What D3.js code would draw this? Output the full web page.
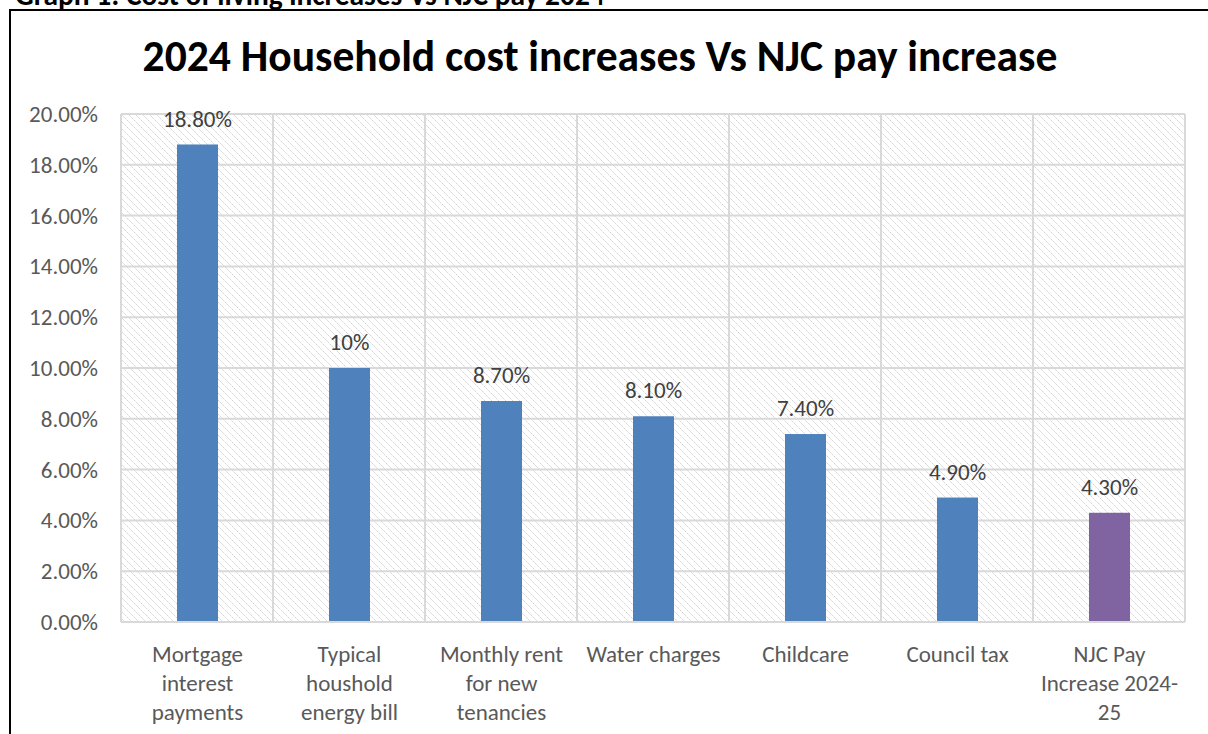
<!DOCTYPE html>
<html>
<head>
<meta charset="utf-8">
<script src="https://cdn.jsdelivr.net/npm/d3@7"></script>
<style>
  body { margin: 0; background: #fff; }
  svg { display: block; font-family: Carlito, Lato, "Open Sans", sans-serif; }
</style>
</head>
<body>
<div id="chart"></div>
<script>
// chart data
const categories = [
  ["Mortgage", "interest", "payments"],
  ["Typical", "houshold", "energy bill"],
  ["Monthly rent", "for new", "tenancies"],
  ["Water charges"],
  ["Childcare"],
  ["Council tax"],
  ["NJC Pay", "Increase 2024-", "25"]
];
const values = [18.8, 10, 8.7, 8.1, 7.4, 4.9, 4.3];
const valueLabels = ["18.80%", "10%", "8.70%", "8.10%", "7.40%", "4.90%", "4.30%"];
const barColors = ["#4f81bd", "#4f81bd", "#4f81bd", "#4f81bd", "#4f81bd", "#4f81bd", "#8064a2"];
const yTicks = [0, 2, 4, 6, 8, 10, 12, 14, 16, 18, 20];

const width = 1208, height = 734;
const plot = { left: 121, right: 1185, top: 114, bottom: 622 };
const fontSize = 23;

const svg = d3.select("#chart")
  .append("svg")
  .attr("width", width)
  .attr("height", height);

// hatch pattern for plot background
const defs = svg.append("defs");
const pat = defs.append("pattern")
  .attr("id", "hatch")
  .attr("patternUnits", "userSpaceOnUse")
  .attr("width", 7)
  .attr("height", 7);
pat.append("path")
  .attr("d", "M-1,-1 L8,8 M-8,-1 L1,8 M6,-1 L15,8")
  .attr("stroke", "#cfcfcf")
  .attr("stroke-width", 1)
  .attr("stroke-dasharray", "2,1");

// document heading, mostly cut off at the top
const heading = svg.append("text")
  .attr("x", 15)
  .attr("y", 5)
  .attr("font-size", 28)
  .attr("font-weight", "bold")
  .attr("fill", "#000")
  .text("Graph 1: Cost of living increases Vs NJC pay 2024");
const hw = heading.node().getComputedTextLength();
heading.attr("font-size", 28 * 590 / hw);

// outer frame (left and top visible)
svg.append("path")
  .attr("d", `M10,${height} L10,10 L${width},10`)
  .attr("fill", "none")
  .attr("stroke", "#000")
  .attr("stroke-width", 2);

// title
const title = svg.append("text")
  .attr("x", 600)
  .attr("y", 71)
  .attr("text-anchor", "middle")
  .attr("font-size", 40)
  .attr("font-weight", "bold")
  .attr("fill", "#000")
  .text("2024 Household cost increases Vs NJC pay increase");
const tw = title.node().getComputedTextLength();
title.attr("font-size", 40 * 915 / tw);

// scales
const x = d3.scaleBand()
  .domain(d3.range(categories.length))
  .range([plot.left, plot.right])
  .padding(0);

const y = d3.scaleLinear()
  .domain([0, 20])
  .range([plot.bottom, plot.top]);

// background
svg.append("rect")
  .attr("x", plot.left)
  .attr("y", plot.top)
  .attr("width", plot.right - plot.left)
  .attr("height", plot.bottom - plot.top)
  .attr("fill", "url(#hatch)");

// horizontal gridlines
svg.append("g")
  .selectAll("line")
  .data(yTicks)
  .join("line")
  .attr("x1", plot.left)
  .attr("x2", plot.right)
  .attr("y1", d => y(d))
  .attr("y2", d => y(d))
  .attr("stroke", "#d9d9d9")
  .attr("stroke-width", 2);

// vertical gridlines at category boundaries
const bounds = d3.range(categories.length + 1).map(i => i < categories.length ? x(i) : plot.right);
svg.append("g")
  .selectAll("line")
  .data(bounds)
  .join("line")
  .attr("x1", d => d)
  .attr("x2", d => d)
  .attr("y1", plot.top)
  .attr("y2", plot.bottom)
  .attr("stroke", "#d9d9d9")
  .attr("stroke-width", 2);

// y axis labels
svg.append("g")
  .selectAll("text")
  .data(yTicks)
  .join("text")
  .attr("x", 98)
  .attr("y", d => y(d))
  .attr("dy", "0.35em")
  .attr("text-anchor", "end")
  .attr("font-size", fontSize)
  .attr("fill", "#595959")
  .text(d => d3.format(".2f")(d) + "%");

// bars
const barW = 41;
svg.append("g")
  .selectAll("rect")
  .data(values)
  .join("rect")
  .attr("x", (d, i) => x(i) + x.bandwidth() / 2 - barW / 2 + 0.5)
  .attr("y", d => y(d))
  .attr("width", barW)
  .attr("height", d => y(0) - y(d) - 1)
  .attr("fill", (d, i) => barColors[i]);

// value labels
svg.append("g")
  .selectAll("text")
  .data(values)
  .join("text")
  .attr("x", (d, i) => x(i) + x.bandwidth() / 2 + 0.5)
  .attr("y", d => y(d) - 26)
  .attr("dy", "0.35em")
  .attr("text-anchor", "middle")
  .attr("font-size", fontSize)
  .attr("fill", "#404040")
  .text((d, i) => valueLabels[i]);

// category labels
const catG = svg.append("g")
  .selectAll("text")
  .data(categories)
  .join("text")
  .attr("text-anchor", "middle")
  .attr("font-size", fontSize)
  .attr("fill", "#595959");
catG.selectAll("tspan")
  .data((d, i) => d.map(line => ({ line, i })))
  .join("tspan")
  .attr("x", d => x(d.i) + x.bandwidth() / 2 + 0.5)
  .attr("y", (d, j) => 654 + j * 29)
  .attr("dy", "0.35em")
  .text(d => d.line);
</script>
</body>
</html>
